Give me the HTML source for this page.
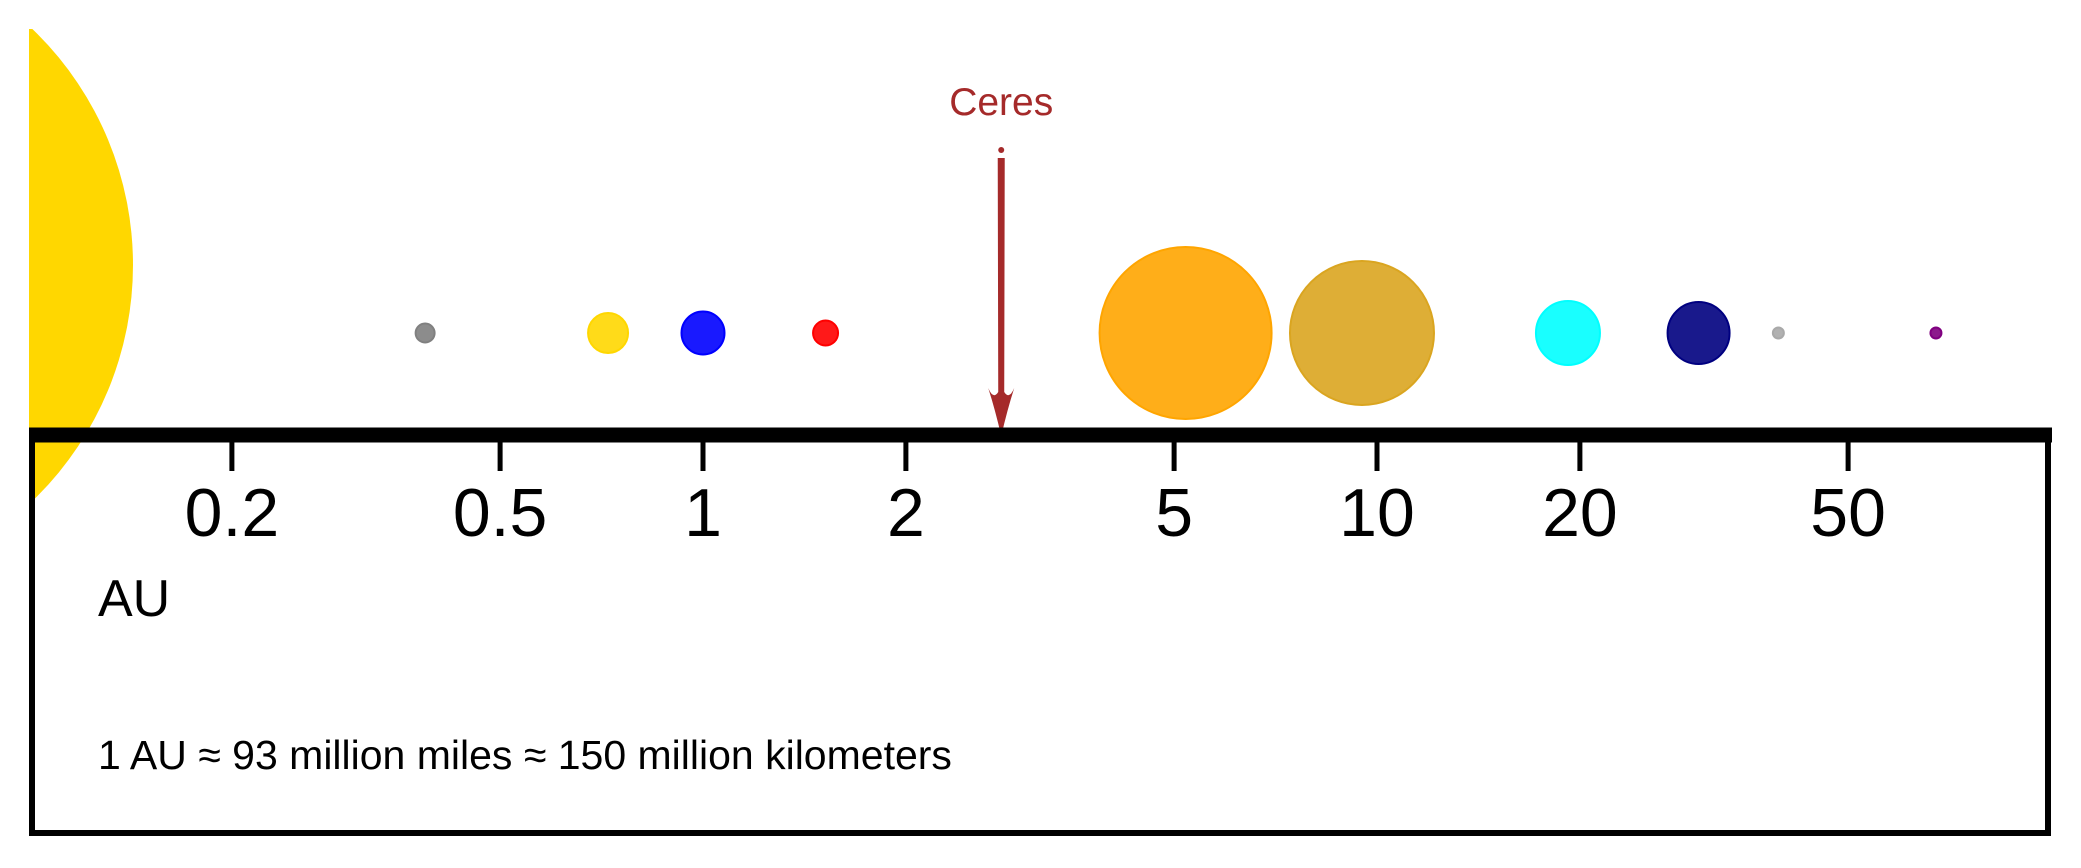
<!DOCTYPE html>
<html><head><meta charset="utf-8"><style>
html,body{margin:0;padding:0;background:#fff;}
svg{display:block;font-family:"Liberation Sans",Arial,sans-serif;}
</style></head><body>
<svg id="chart" width="2081" height="868" viewBox="0 0 2081 868">
<defs><clipPath id="clip"><rect x="29" y="29" width="2030" height="810"/></clipPath></defs>
<circle cx="-194" cy="265" r="327" fill="#FFD700" clip-path="url(#clip)"/>
<g id="planets"></g>
<g id="ceres"></g>
<rect x="32" y="435" width="2016" height="398" fill="none" stroke="#000" stroke-width="6"/>
<line x1="29" y1="435" x2="2052" y2="435" stroke="#000" stroke-width="15"/>
<g id="ticks"></g>
<text x="98" y="616" font-size="52">AU</text>
<text x="98" y="769" font-size="41">1 AU ≈ 93 million miles ≈ 150 million kilometers</text>
</svg>
<script>
const planetNames = ["Mercury","Venus","Earth","Mars","Jupiter","Saturn","Uranus","Neptune","Pluto","Eris"];
const planetAU = [0.387,0.723,1.0,1.52,5.2,9.5,19.2,30.0,39.4,67.5];
const planetRadius = [9.5,20,21.5,12.5,86,72,32,31,5.5,5.5];
const planetColors = ["#808080","#FFD700","#0000FF","#FF0000","#FFA500","#DAA520","#00FFFF","#000080","#A9A9A9","#800080"];
const tickValues = [0.2,0.5,1,2,5,10,20,50];
const tickLabels = ["0.2","0.5","1","2","5","10","20","50"];
const ceresAU = 2.77;
const ceresLabel = "Ceres";

const NS="http://www.w3.org/2000/svg";
const X0=29, X1=2051, LMIN=-1, LMAX=2;
function xScale(v){return X0+(Math.log10(v)-LMIN)/(LMAX-LMIN)*(X1-X0);}
const yRow=333;

const pg=document.getElementById('planets');
planetAU.forEach((au,i)=>{
  const c=document.createElementNS(NS,'circle');
  
  
  c.setAttribute('cx',xScale(au));c.setAttribute('cy',yRow);c.setAttribute('r',planetRadius[i]);
  c.setAttribute('fill',planetColors[i]);c.setAttribute('fill-opacity','0.9');
  c.setAttribute('stroke',planetColors[i]);c.setAttribute('stroke-width','2');
  pg.appendChild(c);
});

const tg=document.getElementById('ticks');
tickValues.forEach((v,i)=>{
  const x=xScale(v);
  const l=document.createElementNS(NS,'line');
  
  
  l.setAttribute('x1',x);l.setAttribute('x2',x);l.setAttribute('y1',442);l.setAttribute('y2',471);
  l.setAttribute('stroke','#000');l.setAttribute('stroke-width','5');
  tg.appendChild(l);
  const t=document.createElementNS(NS,'text');
  
  
  t.setAttribute('x',x);t.setAttribute('y',536);t.setAttribute('font-size','68');t.setAttribute('text-anchor','middle');
  t.textContent=tickLabels[i];
  tg.appendChild(t);
});

const cg=document.getElementById('ceres');
const cx=xScale(ceresAU);
const lab=document.createElementNS(NS,'text');


lab.setAttribute('x',cx);lab.setAttribute('y',115);lab.setAttribute('font-size','39');lab.setAttribute('text-anchor','middle');lab.setAttribute('fill','#A52A2A');
lab.textContent=ceresLabel;cg.appendChild(lab);
const dot=document.createElementNS(NS,'circle');


dot.setAttribute('cx',cx);dot.setAttribute('cy',150);dot.setAttribute('r',3);dot.setAttribute('fill','#A52A2A');
cg.appendChild(dot);
const arr=document.createElementNS(NS,'path');


arr.setAttribute('d',`M${cx-3.5},158 L${cx+3.5},158 L${cx+3},392 Q${cx+8},400 ${cx+13},388 Q${cx+6},410 ${cx},436 Q${cx-6},410 ${cx-13},388 Q${cx-8},400 ${cx-3},392 Z`);
arr.setAttribute('fill','#A52A2A');
cg.appendChild(arr);
</script>
</body></html>
